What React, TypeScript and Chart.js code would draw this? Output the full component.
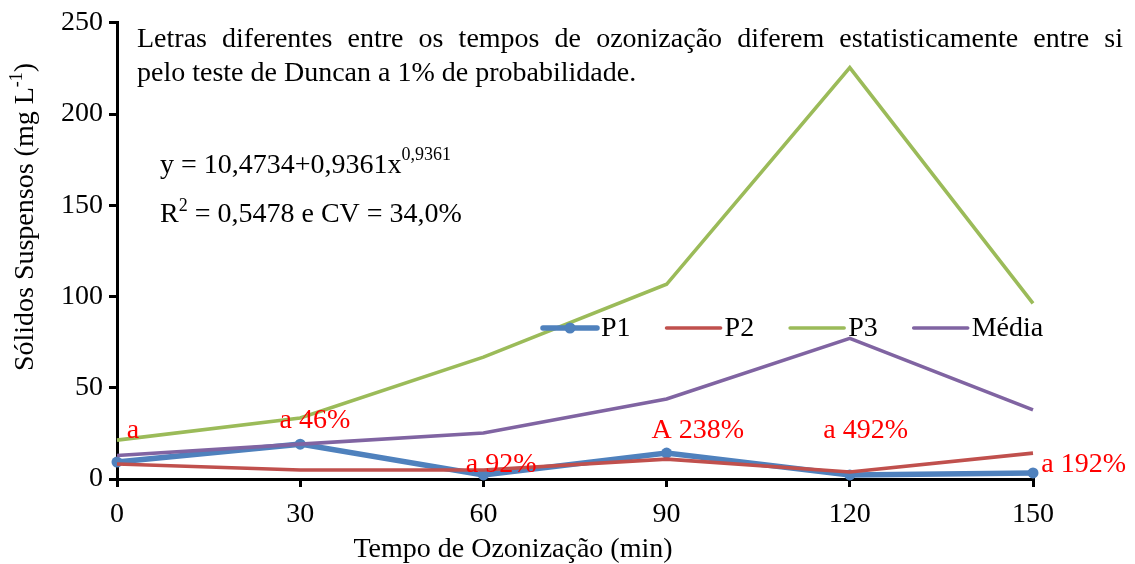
import React, { useEffect, useRef } from "react";
import { Chart, registerables } from "chart.js";

Chart.register(...registerables);

// ---- data ----
const times = [0, 30, 60, 90, 120, 150];
const p1 = [9.3, 19.1, 2.2, 14.2, 2.2, 3.3];
const p2 = [8.2, 4.9, 4.9, 10.9, 3.8, 14.2];
const p3 = [21.3, 33.4, 66.8, 106.7, 225.4, 96.3];
const media = [12.9, 19.1, 25.2, 43.8, 77.1, 37.9];

const seriesNames = ["P1", "P2", "P3", "Média"];
const seriesColors = ["#4F81BD", "#C0504D", "#9BBB59", "#8064A2"];

const xTickStep = 30;
const yTickStep = 50;

// annotation letters (anchor in data units: x centre, y baseline)
const annotText = ["a", "a 46%", "a 92%", "A 238%", "a 492%", "a 192%"];
const annotX = [2.6, 32.4, 62.9, 95.1, 122.6, 158.3];
const annotY = [22.4, 27.9, 3.8, 22.4, 22.4, 3.8];

const noteLine1 =
  "Letras diferentes entre os tempos de ozonização diferem estatisticamente entre si";
const noteLine2 = "pelo teste de Duncan a 1% de probabilidade.";
const eqMain = "y = 10,4734+0,9361x";
const eqExp = "0,9361";
const r2Rest = " = 0,5478 e CV = 34,0%";
const xTitle = "Tempo de Ozonização (min)";
const yTitleMain = "Sólidos Suspensos (mg L";
const yTitleSup = "-1";

const FAM = "'Liberation Serif', 'Times New Roman', serif";
const BIG = 28;
const SMALL = 18;

type Run = { t: string; s: number; dy: number };

function runsWidth(ctx: CanvasRenderingContext2D, runs: Run[]) {
  let w = 0;
  for (const r of runs) {
    ctx.font = `${r.s}px ${FAM}`;
    w += ctx.measureText(r.t).width;
  }
  return w;
}

function drawRuns(ctx: CanvasRenderingContext2D, x: number, y: number, runs: Run[]) {
  let cx = x;
  ctx.textAlign = "left";
  ctx.textBaseline = "alphabetic";
  for (const r of runs) {
    ctx.font = `${r.s}px ${FAM}`;
    ctx.fillText(r.t, cx, y + r.dy);
    cx += ctx.measureText(r.t).width;
  }
}

const overlayPlugin = {
  id: "overlay",
  afterDatasetsDraw(chart: any) {
    const ctx: CanvasRenderingContext2D = chart.ctx;
    ctx.save();
    // legend
    let x = 543;
    const y = 328;
    const lineLen = 54;
    ctx.font = `${BIG}px ${FAM}`;
    chart.data.datasets.forEach((ds: any) => {
      ctx.strokeStyle = ds.borderColor;
      ctx.lineWidth = ds.borderWidth;
      ctx.lineCap = "round";
      ctx.beginPath();
      ctx.moveTo(x, y);
      ctx.lineTo(x + lineLen, y);
      ctx.stroke();
      if (ds.pointRadius > 0) {
        ctx.fillStyle = ds.borderColor;
        ctx.beginPath();
        ctx.arc(x + lineLen / 2, y, ds.pointRadius, 0, Math.PI * 2);
        ctx.fill();
      }
      ctx.fillStyle = "#000";
      ctx.font = `${BIG}px ${FAM}`;
      ctx.textAlign = "left";
      ctx.textBaseline = "middle";
      ctx.fillText(ds.label, x + lineLen + 4, y + 1);
      x += lineLen + 4 + ctx.measureText(ds.label).width + 36;
    });
    ctx.restore();
  },
  afterDraw(chart: any) {
    const ctx: CanvasRenderingContext2D = chart.ctx;
    const xs = chart.scales.x;
    const ys = chart.scales.y;
    ctx.save();
    // annotations
    ctx.fillStyle = "#FF0000";
    ctx.font = `${BIG}px ${FAM}`;
    ctx.textAlign = "center";
    ctx.textBaseline = "alphabetic";
    annotText.forEach((t, i) => {
      ctx.fillText(t, xs.getPixelForValue(annotX[i]), ys.getPixelForValue(annotY[i]));
    });

    ctx.fillStyle = "#000";
    // justified note
    ctx.font = `${BIG}px ${FAM}`;
    const words = noteLine1.split(" ");
    const left = 137;
    const right = 1123;
    const sum = words.reduce((a, w) => a + ctx.measureText(w).width, 0);
    const gap = (right - left - sum) / (words.length - 1);
    let cx = left;
    ctx.textAlign = "left";
    ctx.textBaseline = "alphabetic";
    words.forEach((w) => {
      ctx.fillText(w, cx, 47);
      cx += ctx.measureText(w).width + gap;
    });
    ctx.fillText(noteLine2, left, 81);

    // equation
    drawRuns(ctx, 160, 173, [
      { t: eqMain, s: BIG, dy: 0 },
      { t: eqExp, s: SMALL, dy: -13 },
    ]);
    drawRuns(ctx, 160, 222, [
      { t: "R", s: BIG, dy: 0 },
      { t: "2", s: SMALL, dy: -11 },
      { t: r2Rest, s: BIG, dy: 0 },
    ]);

    // x title
    ctx.font = `${BIG}px ${FAM}`;
    ctx.textAlign = "center";
    ctx.fillText(xTitle, 513, 557);

    // y title
    const yRuns: Run[] = [
      { t: yTitleMain, s: BIG, dy: 0 },
      { t: yTitleSup, s: SMALL, dy: -11 },
      { t: ")", s: BIG, dy: 0 },
    ];
    ctx.translate(33, 217);
    ctx.rotate(-Math.PI / 2);
    const w = runsWidth(ctx, yRuns);
    drawRuns(ctx, -w / 2, 0, yRuns);
    ctx.restore();
  },
};

export default function App() {
  const ref = useRef<HTMLCanvasElement | null>(null);
  useEffect(() => {
    if (!ref.current) return;
    const allSeries = [p1, p2, p3, media];
    const chart = new Chart(ref.current, {
      type: "line",
      data: {
        datasets: allSeries.map((s, i) => ({
          label: seriesNames[i],
          data: s.map((v, j) => ({ x: times[j], y: v })),
          borderColor: seriesColors[i],
          backgroundColor: seriesColors[i],
          borderWidth: i === 0 ? 5.5 : 3.6,
          pointRadius: i === 0 ? 5.5 : 0,
          pointHoverRadius: 0,
          pointBorderWidth: 0,
          tension: 0,
          clip: false as any,
          order: 4 - i,
        })),
      },
      options: {
        responsive: false,
        animation: false,
        events: [],
        layout: { padding: { left: 0, right: 102, top: 22, bottom: 0 } },
        plugins: {
          legend: { display: false },
          tooltip: { enabled: false },
          title: { display: false },
        },
        scales: {
          x: {
            type: "linear",
            min: 0,
            max: 150,
            ticks: {
              stepSize: xTickStep,
              color: "#000",
              font: { family: FAM, size: BIG },
              padding: 11,
              maxRotation: 0,
            },
            grid: { drawOnChartArea: false, tickLength: 8, color: "#000", lineWidth: 3 },
            border: { color: "#000", width: 3 },
            afterFit: (s: any) => {
              s.height = 85;
            },
          },
          y: {
            min: 0,
            max: 250,
            ticks: {
              stepSize: yTickStep,
              color: "#000",
              font: { family: FAM, size: BIG },
              padding: 6,
            },
            grid: { drawOnChartArea: false, tickLength: 8, color: "#000", lineWidth: 3 },
            border: { color: "#000", width: 3 },
            afterFit: (s: any) => {
              s.width = 117;
            },
          },
        },
      },
      plugins: [overlayPlugin],
    });
    return () => chart.destroy();
  }, []);
  return (
    <div style={{ position: "absolute", left: 0, top: 0, width: 1135, height: 564, background: "#fff" }}>
      <canvas ref={ref} width={1135} height={564} />
    </div>
  );
}
